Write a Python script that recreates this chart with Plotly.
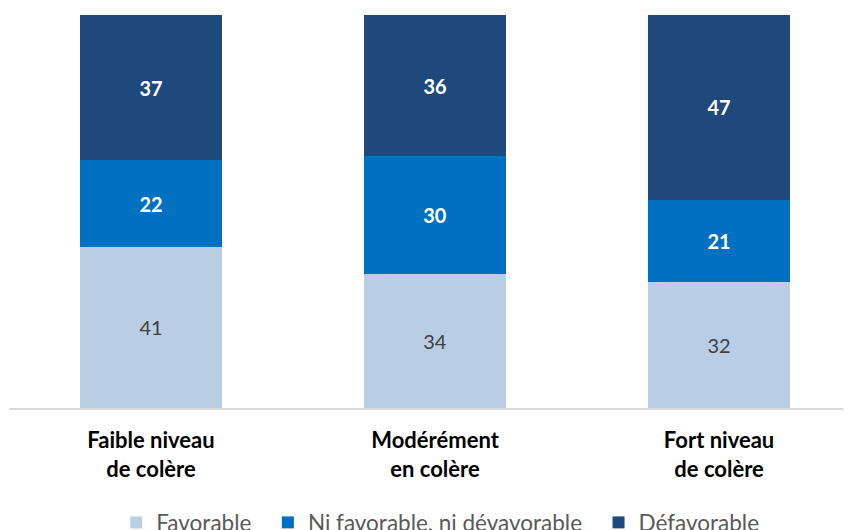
import plotly.graph_objects as go

categories = ["<b>Faible niveau</b><br><b>de colère</b>",
              "<b>Modérément</b><br><b>en colère</b>",
              "<b>Fort niveau</b><br><b>de colère</b>"]
favorable = [41, 34, 32]
neutre = [22, 30, 21]
defavorable = [37, 36, 47]

pad = "\u00a0\u00a0"  # a bit of room between legend entries
series = [
    ("Favorable" + pad, favorable, "#B9CDE5", "#404040", False),
    ("Ni favorable, ni dévavorable" + pad, neutre, "#0070C0", "white", True),
    ("Défavorable", defavorable, "#1F497D", "white", True),
]

fig = go.Figure()
for name, vals, color, tcolor, bold in series:
    fig.add_trace(go.Bar(
        x=[0, 1, 2],
        y=vals,
        name=name,
        marker=dict(color=color, line=dict(width=0)),
        width=0.5,
        text=[f"<b>{v}</b>" if bold else str(v) for v in vals],
        textposition="inside",
        insidetextanchor="middle",
        textfont=dict(color=tcolor, size=20, family="Lato"),
        hoverinfo="skip",
    ))

# page body has an 8px margin, margins below compensate for it
fig.update_layout(
    barmode="stack",
    width=851, height=530,
    margin=dict(l=1, r=11, t=7, b=130, autoexpand=False),
    paper_bgcolor="white",
    plot_bgcolor="white",
    font=dict(family="Lato", size=18, color="#000000"),
    showlegend=True,
    legend=dict(orientation="h", x=0.514, xanchor="center", y=-0.292, yanchor="middle",
                font=dict(size=22.5, color="#595959"), traceorder="normal",
                itemwidth=30),
    xaxis=dict(tickmode="array", tickvals=[0, 1, 2], ticktext=categories,
               range=[-0.5, 2.454], showline=True, linecolor="#D9D9D9", linewidth=1.5,
               ticks="", showgrid=False, zeroline=False, automargin=False,
               ticklabelstandoff=12,
               tickfont=dict(size=22, color="#000000")),
    yaxis=dict(range=[0, 100], visible=False, showgrid=False, zeroline=False,
               automargin=False),
)

fig.write_html("out.html")
